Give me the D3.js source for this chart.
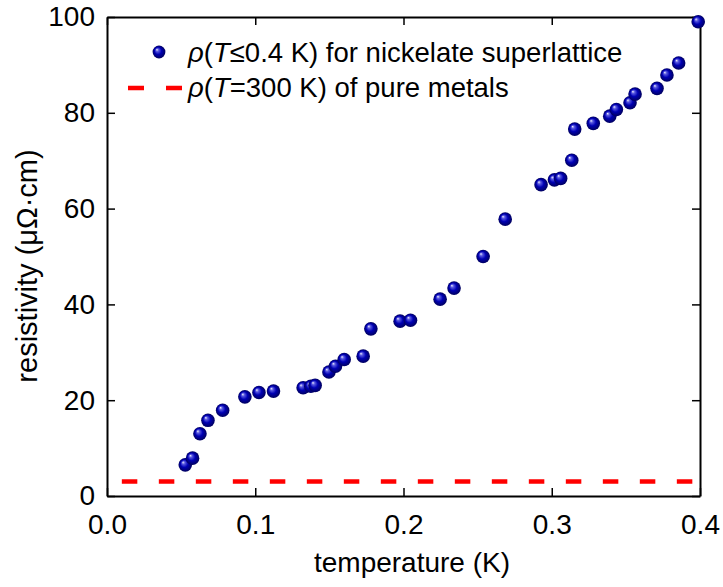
<!DOCTYPE html>
<html>
<head>
<meta charset="utf-8">
<script src="https://cdn.jsdelivr.net/npm/d3@7"></script>
<style>
  body { margin: 0; background: #fff; }
  text { font-family: "Liberation Sans", Arial, sans-serif; fill: #000; }
</style>
</head>
<body>
<div id="rho_plot"></div>
<script>
// data: temperature (K) and resistivity (uOhm cm)
const temps = [0.0528, 0.0577, 0.0627, 0.0681, 0.0780, 0.0930, 0.1025, 0.1123, 0.1323, 0.1375,
  0.1404, 0.1497, 0.1541, 0.1600, 0.1728, 0.1780, 0.1977, 0.2047, 0.2247, 0.2341,
  0.2537, 0.2686, 0.2928, 0.3018, 0.3060, 0.3135, 0.3155, 0.3280, 0.3391, 0.3436,
  0.3528, 0.3562, 0.3710, 0.3777, 0.3856, 0.3988];
const rhos = [6.5, 7.9, 13.0, 15.8, 17.9, 20.7, 21.6, 21.9, 22.6, 22.9,
  23.1, 25.9, 27.1, 28.5, 29.2, 34.9, 36.5, 36.7, 41.1, 43.4,
  50.0, 57.8, 65.0, 66.0, 66.3, 70.1, 76.6, 77.8, 79.3, 80.7,
  82.1, 83.9, 85.1, 87.9, 90.4, 99.0];
// resistivity of pure metals at 300 K, drawn as a dashed line
const metalT = [0.01, 0.4];
const metalRho = [3.05, 3.05];
const xTicks = [0.0, 0.1, 0.2, 0.3, 0.4];
const yTicks = [0, 20, 40, 60, 80, 100];

// set the dimensions and margins of the graph
const margin = {top: 17, right: 23, bottom: 91, left: 107},
    width = 723 - margin.left - margin.right,
    height = 587 - margin.top - margin.bottom;

const svg = d3.select("#rho_plot")
  .append("svg")
    .attr("width", 723)
    .attr("height", 587);

// sphere look for the markers
const grad = svg.append("defs").append("radialGradient")
    .attr("id", "ball")
    .attr("cx", "0.5").attr("cy", "0.5").attr("r", "0.5")
    .attr("fx", "0.33").attr("fy", "0.3");
grad.append("stop").attr("offset", "0%").attr("stop-color", "#f0f0ff");
grad.append("stop").attr("offset", "22%").attr("stop-color", "#5a5ae0");
grad.append("stop").attr("offset", "55%").attr("stop-color", "#0000b4");
grad.append("stop").attr("offset", "100%").attr("stop-color", "#00005e");

const g = svg.append("g")
    .attr("transform", `translate(${margin.left},${margin.top})`);

const x = d3.scaleLinear().domain([0, 0.4]).range([0, width]);
const y = d3.scaleLinear().domain([0, 100]).range([height, 0]);

// axes, ticks pointing inward
const fmtX = d3.format(".1f");
g.append("g")
    .attr("transform", `translate(0,${height})`)
    .call(d3.axisBottom(x).tickValues(xTicks).tickFormat(fmtX).tickSizeInner(-8).tickSizeOuter(0).tickPadding(18));
g.append("g")
    .call(d3.axisTop(x).tickValues(xTicks).tickFormat("").tickSizeInner(-8).tickSizeOuter(0));
g.append("g")
    .call(d3.axisLeft(y).tickValues(yTicks).tickSizeInner(-8).tickSizeOuter(0).tickPadding(12));
g.append("g")
    .attr("transform", `translate(${width},0)`)
    .call(d3.axisRight(y).tickValues(yTicks).tickFormat("").tickSizeInner(-8).tickSizeOuter(0));

g.selectAll(".domain").attr("stroke", "#000").attr("stroke-width", 2);
g.selectAll(".tick line").attr("stroke", "#000").attr("stroke-width", 1.5);
g.selectAll(".tick text")
    .style("font-family", "'Liberation Sans', Arial, sans-serif")
    .style("font-size", "28px")
    .attr("fill", "#000");

// dashed line for pure metals
const metal = metalT.map((t, i) => ({t: t, v: metalRho[i]}));
g.append("path")
    .datum(metal)
    .attr("fill", "none")
    .attr("stroke", "#ff0000")
    .attr("stroke-width", 4.5)
    .attr("stroke-dasharray", "15.5,21.5")
    .attr("d", d3.line().x(d => x(d.t)).y(d => y(d.v)));

// the points
const pts = temps.map((t, i) => ({t: t, v: rhos[i]}));
g.append("g")
  .selectAll("circle")
  .data(pts)
  .join("circle")
    .attr("cx", d => x(d.t))
    .attr("cy", d => y(d.v))
    .attr("r", 6.8)
    .attr("fill", "url(#ball)");

// axis titles
svg.append("text")
    .attr("x", 412)
    .attr("y", 572)
    .attr("text-anchor", "middle")
    .style("font-size", "28px")
    .text("temperature (K)");
svg.append("text")
    .attr("transform", "translate(37,266) rotate(-90)")
    .attr("text-anchor", "middle")
    .style("font-size", "29px")
    .text("resistivity (\u03bc\u03a9\u00b7cm)");

// legend
const leg = svg.append("g");
leg.append("circle")
    .attr("cx", 159).attr("cy", 52).attr("r", 6.4)
    .attr("fill", "url(#ball)");
leg.append("line")
    .attr("x1", 128).attr("x2", 182)
    .attr("y1", 88).attr("y2", 88)
    .attr("stroke", "#ff0000")
    .attr("stroke-width", 4.5)
    .attr("stroke-dasharray", "16,22");

const row1 = leg.append("text").attr("x", 188).attr("y", 62).style("font-size", "27.5px");
row1.append("tspan").style("font-style", "italic").text("\u03c1");
row1.append("tspan").text("(");
row1.append("tspan").style("font-style", "italic").text("T");
row1.append("tspan").text("\u22640.4 K) for nickelate superlattice");

const row2 = leg.append("text").attr("x", 188).attr("y", 97).style("font-size", "27.5px");
row2.append("tspan").style("font-style", "italic").text("\u03c1");
row2.append("tspan").text("(");
row2.append("tspan").style("font-style", "italic").text("T");
row2.append("tspan").text("=300 K) of pure metals");
</script>
</body>
</html>
